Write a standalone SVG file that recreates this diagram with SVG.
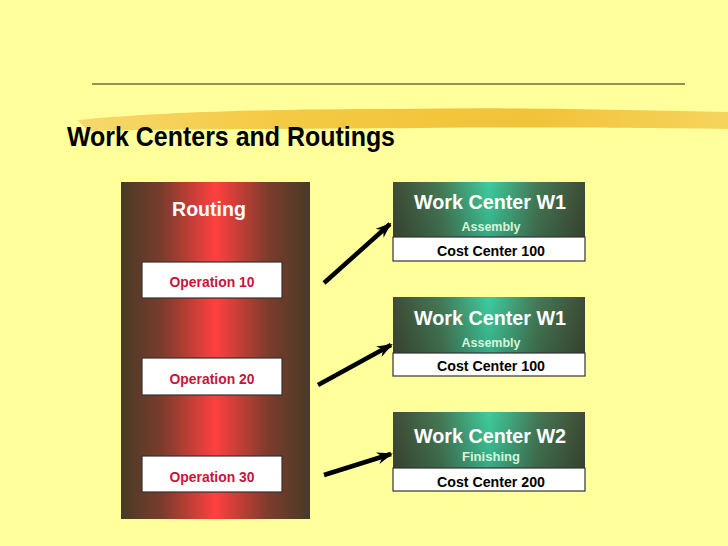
<svg xmlns="http://www.w3.org/2000/svg" width="728" height="546" viewBox="0 0 728 546">
<style>
.title{font-family:"Liberation Sans",Arial,sans-serif;font-weight:bold;font-size:28px;fill:#000}
.rt{font-family:"Liberation Sans",Arial,sans-serif;font-weight:bold;font-size:21px;fill:#fff;text-anchor:middle}
.op{font-family:"Liberation Sans",Arial,sans-serif;font-weight:bold;font-size:15px;fill:#C8143C;text-anchor:middle}
.wc{font-family:"Liberation Sans",Arial,sans-serif;font-weight:bold;font-size:21px;fill:#fff;text-anchor:middle}
.sub{font-family:"Liberation Sans",Arial,sans-serif;font-weight:bold;font-size:13px;fill:#d8f4dc;text-anchor:middle}
.cc{font-family:"Liberation Sans",Arial,sans-serif;font-weight:bold;font-size:15px;fill:#000;text-anchor:middle}
.box{fill:#fff;stroke:#333;stroke-width:1.2}
.arrow{stroke:#000;stroke-width:4.5;fill:none;marker-end:url(#ah)}
</style>
<defs>
<linearGradient id="red" x1="0" y1="0" x2="1" y2="0">
<stop offset="0" stop-color="#473B27"/>
<stop offset="0.22" stop-color="#7C3C2C"/>
<stop offset="0.5" stop-color="#FF4040"/>
<stop offset="0.78" stop-color="#7C3C2C"/>
<stop offset="1" stop-color="#473B27"/>
</linearGradient>
<linearGradient id="green" x1="0" y1="0" x2="1" y2="0">
<stop offset="0" stop-color="#3F4D36"/>
<stop offset="0.25" stop-color="#467A56"/>
<stop offset="0.5" stop-color="#3FCB9E"/>
<stop offset="0.75" stop-color="#467A56"/>
<stop offset="1" stop-color="#3F4D36"/>
</linearGradient>
<linearGradient id="gshade" x1="0" y1="0" x2="0" y2="1">
<stop offset="0" stop-color="#000" stop-opacity="0"/>
<stop offset="1" stop-color="#000" stop-opacity="0.15"/>
</linearGradient>
<linearGradient id="brush" x1="0" y1="0" x2="1" y2="0">
<stop offset="0" stop-color="#F6D468"/>
<stop offset="0.3" stop-color="#F3C43A"/>
<stop offset="0.7" stop-color="#F0BC2E"/>
<stop offset="1" stop-color="#F5CF55"/>
</linearGradient>
<marker id="ah" markerWidth="16" markerHeight="12" refX="14" refY="6" orient="auto" markerUnits="userSpaceOnUse" viewBox="0 0 16 12">
<path d="M0,0 L16,6 L0,12 L5,6 Z" fill="#000"/>
</marker>
</defs>
<rect width="728" height="546" fill="#FFFF9C"/>
<line x1="92" y1="84" x2="685" y2="84" stroke="#6E6E3C" stroke-width="1.5"/>
<path d="M78,120 C150,113 250,109 400,109 C520,107 640,110 728,112 L728,129 C640,128 520,127 420,128 C300,129 180,129 90,131 C84,127 80,124 78,120 Z" fill="url(#brush)" opacity="0.9"/>
<text class="title" x="67" y="146" textLength="328" lengthAdjust="spacingAndGlyphs">Work Centers and Routings</text>

<g id="routing">
<rect x="121" y="182" width="189" height="337" fill="url(#red)"/>
<text class="rt" x="209" y="216" textLength="74" lengthAdjust="spacingAndGlyphs">Routing</text>
</g>
<g id="op10">
<rect class="box" x="142" y="262" width="140" height="36"/>
<text class="op" x="212" y="287" textLength="85" lengthAdjust="spacingAndGlyphs">Operation 10</text>
</g>
<g id="op20">
<rect class="box" x="142" y="358" width="140" height="37"/>
<text class="op" x="212" y="384" textLength="85" lengthAdjust="spacingAndGlyphs">Operation 20</text>
</g>
<g id="op30">
<rect class="box" x="142" y="456" width="140" height="36"/>
<text class="op" x="212" y="482" textLength="85" lengthAdjust="spacingAndGlyphs">Operation 30</text>
</g>

<g id="wc1">
<rect x="393" y="182" width="192" height="55" fill="url(#green)"/>
<rect x="393" y="182" width="192" height="55" fill="url(#gshade)"/>
<rect class="box" x="393" y="237" width="192" height="24"/>
<text class="wc" x="490" y="209" textLength="152" lengthAdjust="spacingAndGlyphs">Work Center W1</text>
<text class="sub" x="491" y="231" textLength="59" lengthAdjust="spacingAndGlyphs">Assembly</text>
<text class="cc" x="491" y="256" textLength="108" lengthAdjust="spacingAndGlyphs">Cost Center 100</text>
</g>
<g id="wc2">
<rect x="393" y="297" width="192" height="56" fill="url(#green)"/>
<rect x="393" y="297" width="192" height="56" fill="url(#gshade)"/>
<rect class="box" x="393" y="353" width="192" height="23"/>
<text class="wc" x="490" y="325" textLength="152" lengthAdjust="spacingAndGlyphs">Work Center W1</text>
<text class="sub" x="491" y="347" textLength="59" lengthAdjust="spacingAndGlyphs">Assembly</text>
<text class="cc" x="491" y="371" textLength="108" lengthAdjust="spacingAndGlyphs">Cost Center 100</text>
</g>
<g id="wc3">
<rect x="393" y="412" width="192" height="56" fill="url(#green)"/>
<rect x="393" y="412" width="192" height="56" fill="url(#gshade)"/>
<rect class="box" x="393" y="468" width="192" height="23"/>
<text class="wc" x="490" y="443" textLength="152" lengthAdjust="spacingAndGlyphs">Work Center W2</text>
<text class="sub" x="491" y="461" textLength="58" lengthAdjust="spacingAndGlyphs">Finishing</text>
<text class="cc" x="491" y="487" textLength="108" lengthAdjust="spacingAndGlyphs">Cost Center 200</text>
</g>

<g id="connectors">
<line class="arrow" x1="324" y1="283" x2="390" y2="224"/>
<line class="arrow" x1="318" y1="385" x2="391" y2="345"/>
<line class="arrow" x1="324" y1="475" x2="391" y2="454"/>
</g>
</svg>
